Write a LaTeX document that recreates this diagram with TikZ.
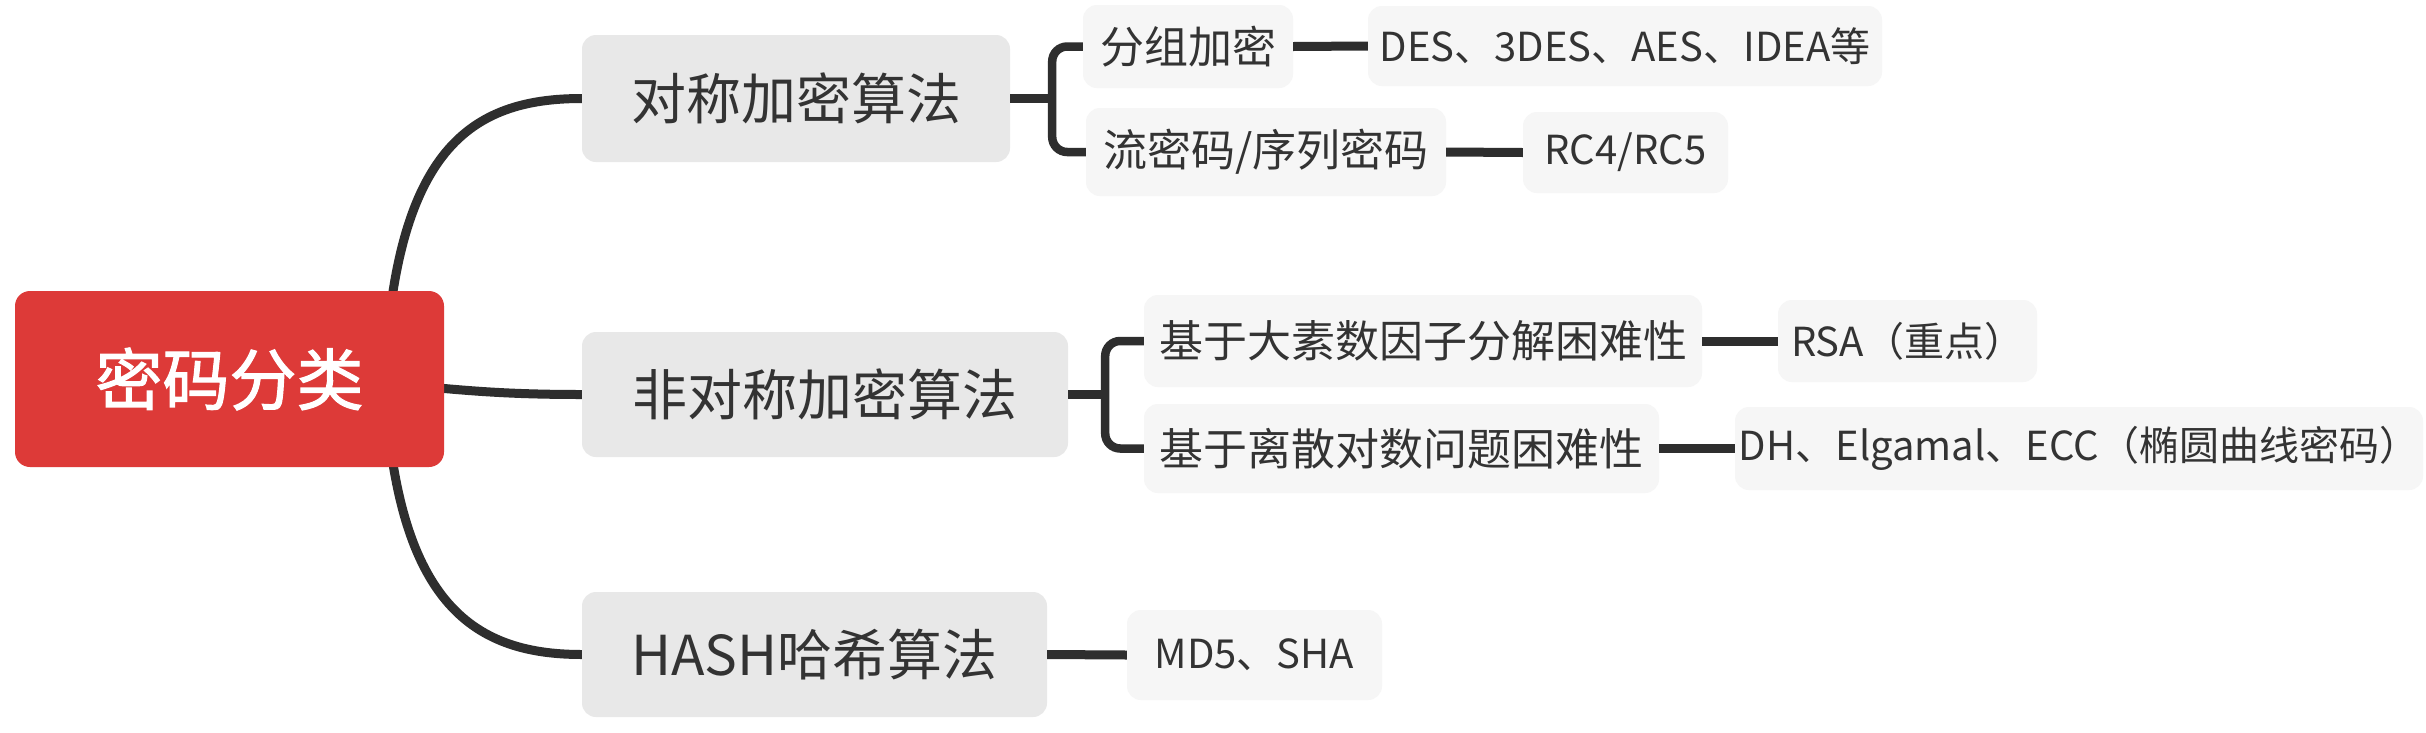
\documentclass[tikz,border=0pt]{standalone}
\usepackage{fontspec}
\setmainfont{Noto Sans CJK SC}
\newfontfamily\rootfont{Noto Sans CJK SC}[FakeBold=1.6]
\usetikzlibrary{backgrounds,calc}
\definecolor{rootred}{HTML}{DD3A38}
\definecolor{lonegray}{HTML}{E8E8E8}
\definecolor{ltwogray}{HTML}{F6F6F6}
\definecolor{txt}{HTML}{333333}
\definecolor{linec}{HTML}{2E2E2E}
\begin{document}
\begin{tikzpicture}[x=1pt,y=-1pt,
  rootbox/.style={rectangle, fill=rootred, rounded corners=15pt, text=white, inner sep=0pt,
    font=\rootfont\fontsize{67}{80}\selectfont},
  lonebox/.style={rectangle, fill=lonegray, rounded corners=14pt, text=txt, inner sep=0pt,
    font=\fontsize{55}{66}\selectfont},
  ltwobox/.style={rectangle, fill=ltwogray, rounded corners=14pt, text=txt, inner sep=0pt,
    font=\fontsize{44}{53}\selectfont},
  leafbox/.style={rectangle, fill=ltwogray, rounded corners=14pt, text=txt, inner sep=0pt,
    font=\fontsize{40}{48}\selectfont},
  conn/.style={draw=linec, line width=9pt},
  brace/.style={draw=linec, line width=8.5pt, rounded corners=15pt}]
\useasboundingbox (0,0) rectangle (2426,732);

% root
\node[rootbox, minimum width=429pt, minimum height=176pt] (root) at (229.5,379) {密码分类};

% level 1
\node[lonebox, minimum width=428pt, minimum height=127pt] (sym) at (796,98.5) {对称加密算法};
\node[lonebox, minimum width=486pt, minimum height=125pt] (asym) at (825,394.5) {非对称加密算法};
\node[lonebox, minimum width=465pt, minimum height=125pt] (hash) at (814.5,654.5) {HASH哈希算法};

% level 2
\node[ltwobox, minimum width=210pt, minimum height=83pt] (block) at (1188,46.5) {分组加密};
\node[ltwobox, minimum width=360pt, minimum height=88pt] (stream) at (1266,152) {流密码/序列密码};
\node[ltwobox, minimum width=558pt, minimum height=92pt] (fact) at (1423,341) {基于大素数因子分解困难性};
\node[ltwobox, minimum width=515pt, minimum height=89pt] (dlog) at (1401.5,448.5) {基于离散对数问题困难性};
\node[leafbox, minimum width=255pt, minimum height=90pt] (md5) at (1254.5,655) {MD5、SHA};

% level 3
\node[leafbox, minimum width=514pt, minimum height=80pt] (des) at (1625,46) {DES、3DES、AES、IDEA等};
\node[leafbox, minimum width=205pt, minimum height=81pt] (rc) at (1625.5,152.5) {RC4/RC5};
\node[leafbox, minimum width=259pt, minimum height=82pt] (rsa) at (1907.5,341) {RSA（重点）};
\node[leafbox, minimum width=688pt, minimum height=83pt] (dh) at (2079,448.5) {DH、Elgamal、ECC（椭圆曲线密码）};

\begin{scope}[on background layer]
  \fill[white] (0,0) rectangle (2426,732);
  \draw[conn] ([xshift=155pt]root.center) .. controls +(11,-229) and +(-112,0) .. (sym.west);
  \draw[conn] (root.center) .. controls +(200,0) and +(-150,0) .. (asym.west);
  \draw[conn] ([xshift=155pt]root.center) .. controls +(11,221) and +(-112,0) .. (hash.west);
\end{scope}

% brackets
\draw[conn] (sym.east) -- ++(42,0);
\draw[brace] (block.west) -| ([xshift=42pt]sym.east) |- (stream.west);
\draw[conn] (asym.east) -- ++(37,0);
\draw[brace] (fact.west) -| ([xshift=37pt]asym.east) |- (dlog.west);

% leaf connectors
\draw[conn] (block.east) -- (des.west);
\draw[conn] (stream.east) -- (rc.west);
\draw[conn] (fact.east) -- (rsa.west);
\draw[conn] (dlog.east) -- (dh.west);
\draw[conn] (hash.east) -- (md5.west);
\end{tikzpicture}
\end{document}
